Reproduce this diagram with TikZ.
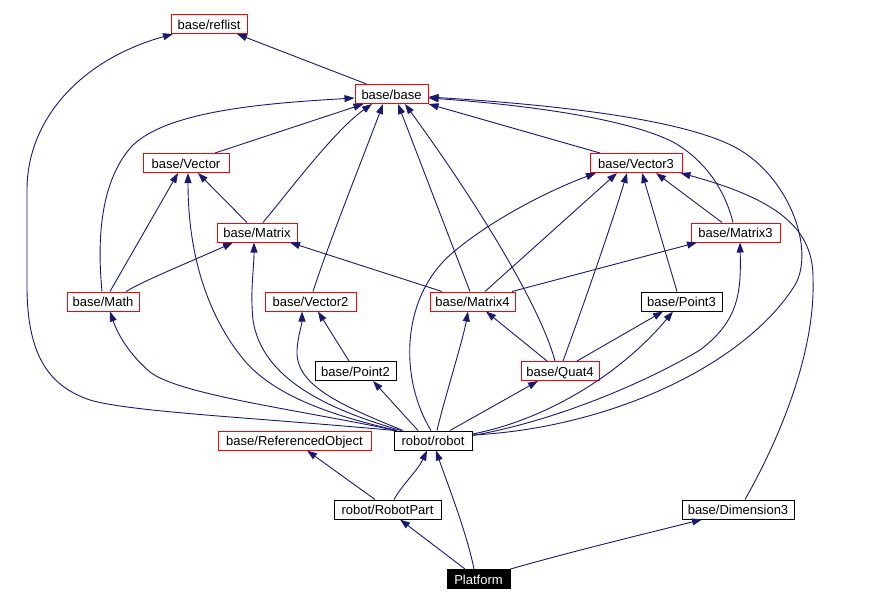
\documentclass[tikz,border=0pt]{standalone}
\usepackage{fontspec}
\setmainfont{Liberation Sans}
\usetikzlibrary{arrows.meta}
\definecolor{edgeblue}{HTML}{191970}
\begin{document}
\begin{tikzpicture}[x=1pt,y=-1pt,
  box/.style={draw, line width=1pt, minimum height=19pt, inner sep=0pt, text height=10.6pt, text depth=0pt, font=\fontsize{13}{15}\selectfont},
  redbox/.style={box, draw=red, fill=white},
  blackbox/.style={box, draw=black, fill=white},
  edge/.style={draw=edgeblue, line width=0.9pt, -{Triangle[length=10pt,width=7pt]}}]
\useasboundingbox[fill=white] (0,0) rectangle (894,603);

% nodes
\node[redbox, minimum width=76pt] (reflist) at (209,24) {base/reflist};
\node[redbox, minimum width=73pt] (base) at (391.5,94) {base/base};
\node[redbox, minimum width=86pt] (vector) at (186,163) {base/Vector};
\node[redbox, minimum width=92pt] (vector3) at (636,163) {base/Vector3};
\node[redbox, minimum width=80pt] (matrix) at (257,232.5) {base/Matrix};
\node[redbox, minimum width=89pt] (matrix3) at (735.5,232.5) {base/Matrix3};
\node[redbox, minimum width=72pt] (math) at (103,301.5) {base/Math};
\node[redbox, minimum width=91pt] (vector2) at (310.5,301.5) {base/Vector2};
\node[redbox, minimum width=85pt] (matrix4) at (472.5,301.5) {base/Matrix4};
\node[blackbox, minimum width=81pt] (point3) at (681.5,301.5) {base/Point3};
\node[blackbox, minimum width=81pt] (point2) at (355.5,371) {base/Point2};
\node[redbox, minimum width=78pt] (quat4) at (560,371) {base/Quat4};
\node[redbox, minimum width=153pt] (refobj) at (294.5,440.5) {base/ReferencedObject};
\node[blackbox, minimum width=78pt] (robot) at (433,440.5) {robot/robot};
\node[blackbox, minimum width=107pt] (robotpart) at (387.5,509.5) {robot/RobotPart};
\node[blackbox, minimum width=112pt] (dim3) at (738,509.5) {base/Dimension3};
\node[box, draw=black, fill=black, text=white, minimum width=63pt] (platform) at (478.5,579) {Platform};

% edges into base/reflist
\draw[edge] ([xshift=-25pt]base.north) -- ([xshift=28pt]reflist.south);
\draw[edge] ([xshift=-38pt]robot.north) .. controls (260,418) and (130,412) .. (90,400)
  .. controls (45,385) and (28,350) .. (27,290) -- (27,190)
  .. controls (27,120) and (80,60) .. ([xshift=-36pt]reflist.south);

% edges into base/base
\draw[edge] ([xshift=29pt]vector.north) -- ([xshift=-28pt]base.south);
\draw[edge] ([xshift=-1pt]math.north) .. controls (97,240) and (100,180) .. (133,145)
  .. controls (170,110) and (270,103) .. ([yshift=-4pt]base.west);
\draw[edge] ([xshift=6pt]matrix.north) .. controls (290,190) and (335,130) .. ([xshift=-19.5pt]base.south);
\draw[edge] ([xshift=2.5pt]vector2.north) .. controls (328,245) and (362,160) .. ([xshift=-8.5pt]base.south);
\draw[edge] ([xshift=-2.5pt]matrix4.north) -- ([xshift=6.5pt]base.south);
\draw[edge] ([xshift=-5pt]quat4.north) .. controls (540,305) and (475,200) .. ([xshift=13.5pt]base.south);
\draw[edge] ([xshift=-36pt]vector3.north) -- (base.south east);
\draw[edge] ([xshift=-2.5pt]matrix3.north) .. controls (725,190) and (705,160) .. (673,142)
  .. controls (620,115) and (500,103) .. ([yshift=-4pt]base.east);
\draw[edge] ([yshift=5.5pt]robot.east) .. controls (610,428) and (745,365) .. (795,285)
  .. controls (815,250) and (790,180) .. (740,150)
  .. controls (690,120) and (560,105) .. ([yshift=-3pt]base.east);

% edges into base/Vector
\draw[edge] ([xshift=7pt]math.north) -- ([xshift=-8pt]vector.south);
\draw[edge] ([xshift=-10pt]matrix.north) -- ([xshift=12pt]vector.south);
\draw[edge] ([xshift=-36pt]robot.north) .. controls (330,415) and (270,395) .. (240,355)
  .. controls (205,310) and (188,250) .. ([xshift=2pt]vector.south);

% edges into base/Matrix
\draw[edge] ([xshift=23pt]math.north) .. controls (145,280) and (190,262) .. ([xshift=-24pt]matrix.south);
\draw[edge] ([xshift=-30.5pt]matrix4.north) -- ([xshift=33pt]matrix.south);
\draw[edge] ([xshift=-32pt]robot.north) .. controls (330,410) and (262,380) .. (253,320)
  .. controls (250,290) and (254,270) .. ([xshift=-3pt]matrix.south);

% edges into base/Math, base/Vector2, base/Point2
\draw[edge] ([xshift=-37pt]robot.north) .. controls (300,410) and (180,395) .. (150,372)
  .. controls (130,355) and (118,335) .. ([xshift=7pt]math.south);
\draw[edge] ([xshift=-30pt]robot.north) .. controls (340,405) and (295,385) .. (297,350)
  .. controls (298,335) and (302,325) .. ([xshift=-8.5pt]vector2.south);
\draw[edge] ([xshift=-6.5pt]point2.north) -- ([xshift=7.5pt]vector2.south);
\draw[edge] ([xshift=-15pt]robot.north) -- ([xshift=17.5pt]point2.south);

% edges into base/Matrix4, base/Quat4
\draw[edge] ([xshift=4pt]robot.north) .. controls (444,400) and (463,340) .. ([xshift=-4.5pt]matrix4.south);
\draw[edge] ([xshift=-13pt]quat4.north) -- ([xshift=13.5pt]matrix4.south);
\draw[edge] ([xshift=17pt]robot.north) -- ([xshift=-22pt]quat4.south);

% edges into base/Vector3
\draw[edge] ([xshift=-2pt]robot.north) .. controls (400,380) and (400,300) .. (450,255)
  .. controls (490,220) and (550,190) .. ([xshift=-40pt]vector3.south);
\draw[edge] ([xshift=12.5pt]matrix4.north) -- ([xshift=-19pt]vector3.south);
\draw[edge] ([xshift=3pt]quat4.north) .. controls (578,320) and (610,230) .. ([xshift=-9pt]vector3.south);
\draw[edge] ([xshift=-4.5pt]point3.north) -- ([xshift=6pt]vector3.south);
\draw[edge] ([xshift=-13.5pt]matrix3.north) -- ([xshift=20pt]vector3.south);
\draw[edge] ([xshift=7pt]dim3.north) .. controls (790,420) and (815,340) .. (813,280)
  .. controls (814,230) and (780,200) .. ([xshift=-2pt]vector3.south east);

% edges into base/Matrix3, base/Point3
\draw[edge] ([xshift=39.5pt]matrix4.north) -- ([xshift=-38.5pt]matrix3.south);
\draw[edge] ([yshift=5pt]robot.east) .. controls (560,420) and (650,380) .. (700,350)
  .. controls (740,320) and (741,290) .. ([xshift=4.5pt]matrix3.south);
\draw[edge] ([xshift=17pt]quat4.north) -- ([xshift=-18.5pt]point3.south);
\draw[edge] ([yshift=6.5pt]robot.east) .. controls (545,420) and (620,375) .. ([xshift=-8.5pt]point3.south);

% bottom edges
\draw[edge] ([xshift=-12.5pt]robotpart.north) -- ([xshift=12.5pt]refobj.south);
\draw[edge] ([xshift=6.5pt]robotpart.north) .. controls (402,485) and (418,470) .. ([xshift=-6pt]robot.south);
\draw[edge] ([xshift=-4.5pt]platform.north) .. controls (466,530) and (446,480) .. ([xshift=3pt]robot.south);
\draw[edge] ([xshift=-13.5pt]platform.north) -- ([xshift=12.5pt]robotpart.south);
\draw[edge] (platform.north east) .. controls (570,552) and (640,535) .. ([xshift=-36pt]dim3.south);
\end{tikzpicture}
\end{document}
